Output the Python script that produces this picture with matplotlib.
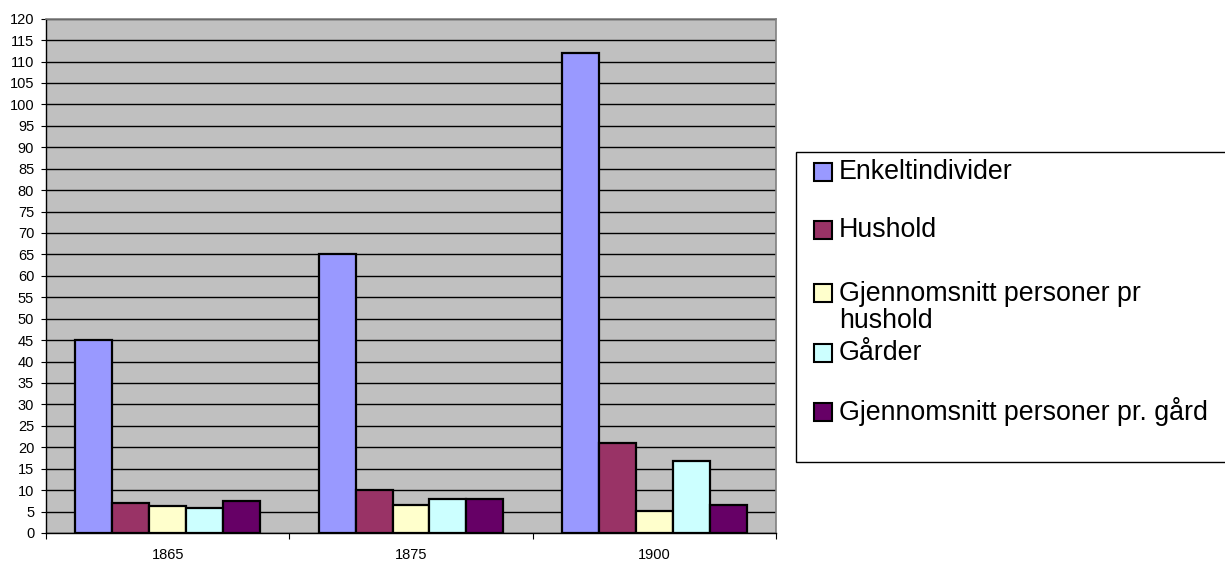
import numpy as np
import matplotlib.pyplot as plt
from matplotlib.patches import Rectangle

plt.rcParams['font.family'] = ['Liberation Sans', 'DejaVu Sans']

# Data
years = ["1865", "1875", "1900"]
series_names = ["Enkeltindivider", "Hushold", "Gjennomsnitt personer pr\nhushold",
                "Gårder", "Gjennomsnitt personer pr. gård"]
enkeltindivider = [45, 65, 112]
hushold = [7, 10, 21]
snitt_hushold = [6.4, 6.5, 5.2]
garder = [5.9, 7.9, 16.9]
snitt_gard = [7.4, 8.0, 6.5]
colors = ["#9999FF", "#993366", "#FFFFCC", "#CCFFFF", "#660066"]

values = [enkeltindivider, hushold, snitt_hushold, garder, snitt_gard]

W, H = 1225, 566
fig = plt.figure(figsize=(W / 100, H / 100), dpi=100)
ax = fig.add_axes([46 / W, 1 - 533 / H, 730 / W, (533 - 18.7) / H])
ax.set_facecolor("#C0C0C0")

x = np.arange(len(years))
w = 0.152
for i, (vals, col) in enumerate(zip(values, colors)):
    ax.bar(x - 2 * w + i * w, vals, width=w, color=col, edgecolor="black",
           linewidth=1.6, zorder=3)

ax.set_xlim(-0.5, 2.5)
ax.set_ylim(0, 120)
ax.set_yticks(np.arange(0, 121, 5))
ax.yaxis.grid(True, color="black", linewidth=1.0, zorder=0)
ax.set_axisbelow(True)

# category labels between boundary ticks
ax.set_xticks([-0.5, 0.5, 1.5, 2.5])
ax.set_xticklabels([])
ax.set_xticks(x, minor=True)
ax.set_xticklabels(years, minor=True)
ax.tick_params(axis="x", which="minor", length=0, pad=11, labelsize=10.5)
ax.tick_params(axis="x", which="major", length=4, direction="out", color="black")
ax.tick_params(axis="y", length=3.5, direction="out", labelsize=10.5, pad=5)

for side in ["top", "right"]:
    ax.spines[side].set_color("#808080")
    ax.spines[side].set_linewidth(1.2)
for side in ["left", "bottom"]:
    ax.spines[side].set_color("black")
    ax.spines[side].set_linewidth(1.0)

# legend box drawn like the Excel one (entries in fixed slots)
fig.add_artist(Rectangle((796 / W, 1 - 462 / H), (W + 5 - 796) / W, (462 - 152) / H,
                         transform=fig.transFigure, facecolor="white",
                         edgecolor="black", linewidth=1.0))
marker_y = [172, 230, 293, 353, 412]
text_y = [172, 230, 307.5, 353, 412]
for name, col, my, ty in zip(series_names, colors, marker_y, text_y):
    fig.add_artist(Rectangle((814 / W, 1 - (my + 9) / H), 18 / W, 18 / H,
                             transform=fig.transFigure, facecolor=col,
                             edgecolor="black", linewidth=1.5))
    fig.text(839 / W, 1 - ty / H, name, fontsize=19.3, va="center", ha="left",
             linespacing=1.05)

fig.savefig("out.png", dpi=100)
